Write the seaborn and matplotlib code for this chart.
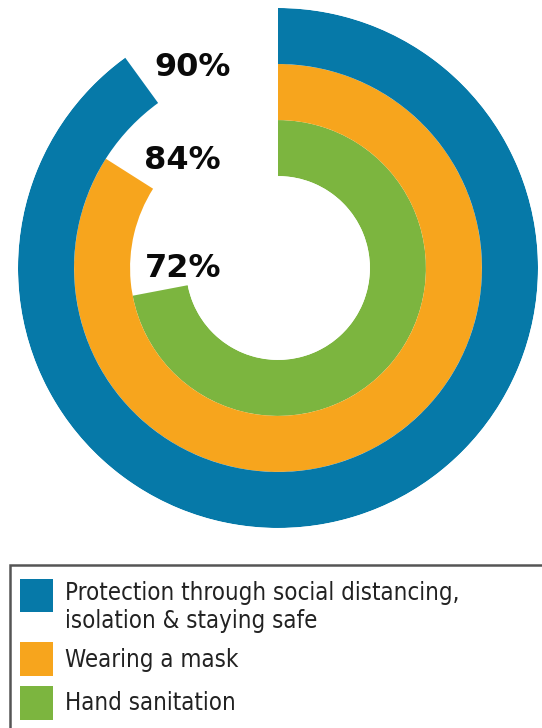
import numpy as np
import pandas as pd
import matplotlib.pyplot as plt
import seaborn as sns
from matplotlib.patches import Patch, Rectangle
from matplotlib.legend_handler import HandlerPatch

# data (inner ring first)
categories = ['Hand sanitation', 'Wearing a mask',
              'Protection through social distancing,\nisolation & staying safe']
values = [72, 84, 90]
labels = ['72%', '84%', '90%']
colors = ['#7cb53f', '#f7a51d', '#0679a8']

df = pd.DataFrame({'category': categories, 'value': values})
df['theta'] = df['value'] / 100 * 2 * np.pi

sns.set_theme(style='white')

fig = plt.figure(figsize=(5.42, 7.28), dpi=100)
ax = fig.add_axes([16 / 542, 200 / 728, 524 / 542, 520 / 728], projection='polar')
ax.set_theta_zero_location('N')
ax.set_theta_direction(-1)

sns.barplot(data=df, x='theta', y='category', hue='category', order=categories,
            hue_order=categories, palette=colors, orient='h', width=1,
            saturation=1, legend=False, linewidth=0, ax=ax)

# ring layout: hole in the middle
ax.set_ylim(-0.5, 2.5)
ax.set_rorigin(-2.14)
ax.axis('off')

# percentage labels sit in the gap left of 12 o'clock
label_pos = [(269.4, -0.44), (318.1, 0.43), (336.8, 1.75)]
for txt, (deg, r) in zip(labels, label_pos):
    ax.text(np.deg2rad(deg), r, txt, ha='center', va='center', fontsize=23,
            fontweight='heavy', color='#0a0a0a', clip_on=False)


# handle of the two-line entry lines up with its first line
class TopPatch(HandlerPatch):
    def __init__(self, shift, **kw):
        super().__init__(**kw)
        self.shift = shift

    def create_artists(self, legend, orig_handle, xdescent, ydescent,
                       width, height, fontsize, trans):
        arts = super().create_artists(legend, orig_handle, xdescent, ydescent,
                                      width, height, fontsize, trans)
        for a in arts:
            a.set_y(a.get_y() + self.shift * fontsize)
        return arts


# legend with its box running off the bottom/right edges
fig.patches.append(Rectangle((10 / 542, -0.1), 1.2, 0.1 + 1 - 565 / 728,
                             transform=fig.transFigure, fill=False,
                             edgecolor='#555555', linewidth=1.8))
handles = [Patch(facecolor=c, edgecolor='none') for c in colors[::-1]]
fig.legend(handles, categories[::-1], loc='upper left',
           bbox_to_anchor=(20 / 542, 1 - 581 / 728), frameon=False,
           prop={'family': 'DejaVu Sans', 'stretch': 'condensed', 'size': 17.2},
           handlelength=1.38, handleheight=1.8, handletextpad=0.5,
           labelspacing=0.4, borderpad=0, borderaxespad=0, labelcolor='#222222',
           handler_map={handles[0]: TopPatch(0.55)})

fig.savefig('out.png', dpi=100, facecolor='white')
